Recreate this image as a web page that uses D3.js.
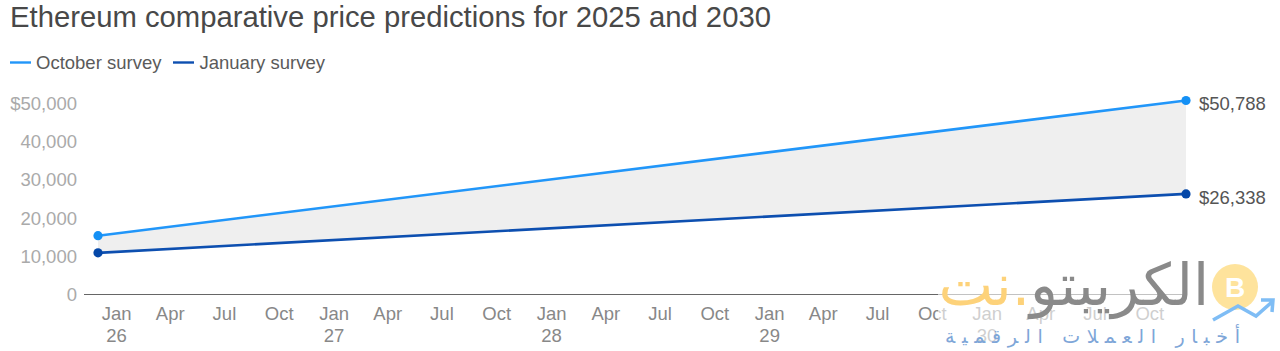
<!DOCTYPE html>
<html><head><meta charset="utf-8">
<script src="https://cdn.jsdelivr.net/npm/d3@7/dist/d3.min.js"></script>
<style>html,body{margin:0;padding:0;background:#fff;overflow:hidden}svg{display:block}text{font-family:"Liberation Sans",Arial,sans-serif}</style>
</head><body><svg id="c" width="1280" height="351"></svg>
<script>
const titleText="Ethereum comparative price predictions for 2025 and 2030";
const seriesNames=["October survey","January survey"];
const seriesColors=["#2196f9","#0d4fb0"];
const dotColors=["#1490f5","#0447a8"];
const dates=["2025-12-31","2030-12-31"];
const october=[15400,50788];
const january=[10900,26338];
const yTicks=[0,10000,20000,30000,40000,50000];
const quarterNames=["Jan","Apr","Jul","Oct"];
const years=[2026,2027,2028,2029,2030];

const svg=d3.select("#c");
const parse=d3.utcParse("%Y-%m-%d");
const D=dates.map(parse);
const x=d3.scaleUtc().domain(D).range([98,1186]);
const y=d3.scaleLinear().domain([0,50000]).range([294.5,103.5]);

svg.append("text").attr("x",10).attr("y",27).attr("font-size",29.25).attr("fill","#484848").text(titleText);

// legend
const lg=[[10,36],[173,199.5]];
seriesNames.forEach((n,i)=>{
  svg.append("line").attr("x1",lg[i][0]).attr("x2",lg[i][0]+21).attr("y1",62.5).attr("y2",62.5).attr("stroke",seriesColors[i]).attr("stroke-width",2.4);
  svg.append("text").attr("x",lg[i][1]).attr("y",69).attr("font-size",18.5).attr("fill","#5a5a5a").text(n);
});

// band between series
const bandRows=D.map((d,i)=>({d,a:october[i],b:january[i]}));
svg.append("path").datum(bandRows).attr("fill","#efefef")
  .attr("d",d3.area().x(r=>x(r.d)).y0(r=>y(r.b)).y1(r=>y(r.a)));

// y axis labels
yTicks.forEach(t=>{
  svg.append("text").attr("x",77).attr("y",y(t)+6.5).attr("text-anchor","end").attr("font-size",18.5).attr("fill","#aaa")
    .text((t===50000?"$":"")+d3.format(",")(t));
});

// x axis
svg.append("line").attr("x1",84).attr("x2",1186).attr("y1",294.5).attr("y2",294.5).attr("stroke","#666").attr("stroke-width",1);
years.forEach(yr=>{
  quarterNames.forEach((q,i)=>{
    const px=x(new Date(Date.UTC(yr,i*3,1)))+18;
    svg.append("text").attr("x",px).attr("y",320).attr("text-anchor","middle").attr("font-size",18.5).attr("fill","#888").text(q);
    if(i===0) svg.append("text").attr("x",px).attr("y",342).attr("text-anchor","middle").attr("font-size",18.5).attr("fill","#888").text(String(yr).slice(2));
  });
});

// lines, dots, end labels
[october,january].forEach((vals,i)=>{
  const rows=D.map((d,k)=>({d,v:vals[k]}));
  svg.append("path").datum(rows).attr("fill","none").attr("stroke",seriesColors[i]).attr("stroke-width",2.6)
    .attr("d",d3.line().x(r=>x(r.d)).y(r=>y(r.v)));
  svg.selectAll(null).data(rows).join("circle").attr("cx",r=>x(r.d)).attr("cy",r=>y(r.v)).attr("r",4.6).attr("fill",dotColors[i]);
  svg.append("text").attr("x",1199).attr("y",y(vals[1])+10).attr("font-size",18.5).attr("fill","#555").text("$"+d3.format(",")(vals[1]));
});

// watermark
const wm=svg.append("g");
wm.append("rect").attr("x",938).attr("y",258).attr("width",300).attr("height",93).attr("fill","#fff").attr("opacity",.6);
const wmT=wm.append("text").attr("x",1209).attr("y",305).attr("direction","rtl").attr("text-anchor","start").style("font-family","'DejaVu Sans'").attr("font-size",58);
wmT.append("tspan").attr("fill","#8a8a8a").text("الكريبتو");
wmT.append("tspan").attr("fill","#fdd27a").text(".نت");
wm.append("text").attr("x",1240).attr("y",343).attr("direction","rtl").attr("text-anchor","start").attr("font-size",19)
  .attr("textLength",295).attr("lengthAdjust","spacing")
  .style("font-family","'DejaVu Sans'").attr("fill","#7ea6d8").text("أخبار العملات الرقمية");
wm.append("circle").attr("cx",1235).attr("cy",287).attr("r",23).attr("fill","#fee39c");
wm.append("text").attr("x",1235).attr("y",297).attr("text-anchor","middle").attr("font-size",28).attr("font-weight","bold").attr("fill","#fff").text("B");
wm.append("path").attr("d","M1213 320 L1238 306 L1256 316 L1273 301 M1261 300 L1273 300 L1272 312").attr("fill","none").attr("stroke","#7fbdf5").attr("stroke-width",3.5);
</script></body></html>
